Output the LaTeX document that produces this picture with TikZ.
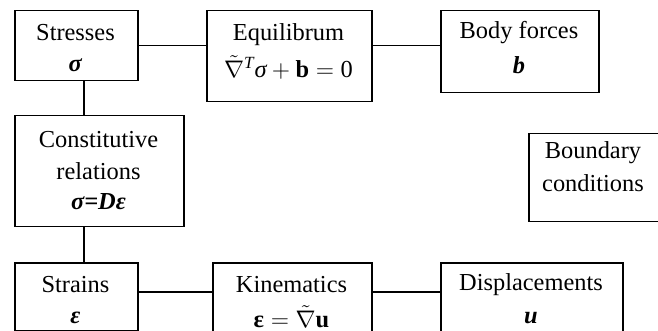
\documentclass[tikz,border=0pt]{standalone}
\usepackage{amsmath}
\usepackage{fontspec}
\setmainfont{Liberation Serif}
\begin{document}
\begin{tikzpicture}[x=0.5pt,y=-0.5pt,
  box/.style={draw,line width=0.75pt,rectangle,inner sep=0pt,anchor=north west},
  txt/.style={font=\fontsize{12.2}{14}\selectfont,inner sep=0pt},
  link/.style={draw,line width=0.75pt}]
\useasboundingbox (0,0) rectangle (658,331);
% boxes
\node[box,minimum width=61.5pt,minimum height=35pt] (s) at (14,10) {};
\node[box,minimum width=82.5pt,minimum height=45.5pt] (e) at (206,10) {};
\node[box,minimum width=79pt,minimum height=41pt] (b) at (440,10) {};
\node[box,minimum width=84.5pt,minimum height=55.5pt] (c) at (14,115) {};
\node[box,minimum width=66pt,minimum height=44pt] (bc) at (528,133) {};
\node[box,minimum width=61.5pt,minimum height=34pt] (st) at (14,262) {};
\node[box,minimum width=79.5pt,minimum height=40pt] (k) at (212,262) {};
\node[box,minimum width=91pt,minimum height=40pt] (d) at (440,262) {};
% texts
\node[txt] (s1) at (75.5,33) {Stresses};
\node[txt] (s2) at (75.5,65) {\textbf{\textit{σ}}};
\node[txt] (e1) at (288.5,35) {Equilibrum};
\node[txt] (e2) at (288.5,67) {$\tilde{\nabla}^{\textit{T}}\textit{σ}+\mathbf{b}=\text{0}$};
\node[txt] (b1) at (519,33) {Body forces};
\node[txt] (b2) at (519,65) {\textbf{\textit{b}}};
\node[txt] (c1) at (98.5,140) {Constitutive};
\node[txt] (c2) at (98.5,171) {relations};
\node[txt] (c3) at (98.5,202) {\textbf{\textit{σ=Dε}}};
\node[txt] (bc1) at (593,153) {Boundary};
\node[txt] (bc2) at (593,183) {conditions};
\node[txt] (st1) at (75.5,285) {Strains};
\node[txt] (st2) at (75.5,318) {\textbf{\textit{ε}}};
\node[txt] (k1) at (291.5,285) {Kinematics};
\node[txt] (k2) at (291.5,317) {$\textbf{ε}=\tilde{\nabla}\mathbf{u}$};
\node[txt] (d1) at (531,285) {Displacements};
\node[txt] (d2) at (531,318) {\textbf{\textit{u}}};
% connectors
\draw[link] (s.east) -- (s.east -| e.west);
\draw[link] ([yshift=5.25pt]e.east) -- ([yshift=5.25pt]e.east -| b.west);
\draw[link] ([xshift=3.75pt]s.south) -- ([xshift=3.75pt]s.south |- c.north);
\draw[link] ([xshift=-7.75pt]c.south) -- ([xshift=-7.75pt]c.south |- st.north);
\draw[link] ([yshift=2.5pt]st.east) -- ([yshift=2.5pt]st.east -| k.west);
\draw[link] ([yshift=5.5pt]k.east) -- ([yshift=5.5pt]k.east -| d.west);
\end{tikzpicture}
\end{document}
